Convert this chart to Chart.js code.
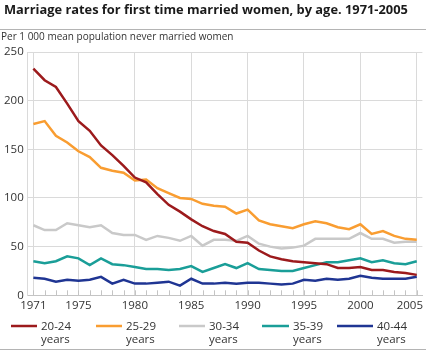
<!DOCTYPE html>
<html><head><meta charset="utf-8">
<script src="https://cdn.jsdelivr.net/npm/chart.js@4/dist/chart.umd.min.js"></script>
<style>html,body{margin:0;padding:0;background:#fff;}canvas{display:block;}</style>
</head><body>
<canvas id="c" width="426" height="351"></canvas>
<script>
const years = [1971,1972,1973,1974,1975,1976,1977,1978,1979,1980,1981,1982,1983,1984,1985,1986,1987,1988,1989,1990,1991,1992,1993,1994,1995,1996,1997,1998,1999,2000,2001,2002,2003,2004,2005];
const xTickLabels = [1971,1975,1980,1985,1990,1995,2000,2005];
const yTickValues = [0,50,100,150,200,250];
const seriesNames = ['20-24 years','25-29 years','30-34 years','35-39 years','40-44 years'];
const age20_24 = [233,221,214,197,179,169,154,144,133,121,116,104,93,86,78,71,66,63,55,54,46,40,37,35,34,33,32,28,28,29,26,26,24,23,21];
const age25_29 = [176,179,164,157,148,142,131,128,126,118,119,110,105,100,99,94,92,91,84,88,77,73,71,69,73,76,74,70,68,73,63,66,61,58,57];
const age30_34 = [72,67,67,74,72,70,72,64,62,62,57,61,59,56,61,51,57,57,56,61,53,50,48,49,51,58,58,58,58,64,58,58,54,55,55];
const age35_39 = [35,33,35,40,38,31,38,32,31,29,27,27,26,27,30,24,28,32,28,33,27,26,25,25,28,31,34,34,36,38,34,36,33,32,35];
const age40_44 = [18,17,14,16,15,16,19,12,16,12,12,13,14,10,17,12,12,13,12,13,13,12,11,12,16,15,17,16,17,20,18,17,17,17,19];

const titleText = 'Marriage rates for first time married women, by age. 1971-2005';
const subtitleText = 'Per 1 000 mean population never married women';

const colors = ['#9c1a1c','#f99d31','#c9c9c9','#1a9e98','#1f3593'];
const seriesData = [age20_24, age25_29, age30_34, age35_39, age40_44];

const FONT = '"Open Sans", "Noto Sans", sans-serif';
const GRID = '#dadada';

const decor = {
  id: 'decor',
  beforeDatasetsDraw(chart) {
    const ctx = chart.ctx, xs = chart.scales.x, ca = chart.chartArea;
    ctx.save();
    ctx.strokeStyle = '#c4c4c4'; ctx.lineWidth = 1;
    years.forEach(y => {
      const px = Math.round(xs.getPixelForValue(y)) + 0.5;
      ctx.beginPath(); ctx.moveTo(px, ca.bottom); ctx.lineTo(px, ca.bottom - 5); ctx.stroke();
    });
    ctx.restore();
  },
  afterDraw(chart) {
    const ctx = chart.ctx, xs = chart.scales.x;
    ctx.save();
    ctx.font = '11.5px ' + FONT; ctx.fillStyle = '#333'; ctx.textBaseline = 'middle';
    xTickLabels.forEach(y => {
      const t = String(y); const w = ctx.measureText(t).width;
      let px = xs.getPixelForValue(y) - w / 2;
      px = Math.min(px, chart.width - 3 - w);
      ctx.fillText(t, px, 306);
    });
    ctx.fillStyle = '#1a1a1a';
    ctx.font = 'bold 12.85px ' + FONT; ctx.textBaseline = 'alphabetic';
    ctx.fillText(titleText, 4, 14);
    ctx.strokeStyle = '#b4b4b4'; ctx.lineWidth = 1;
    ctx.beginPath(); ctx.moveTo(0, 29.5); ctx.lineTo(chart.width, 29.5); ctx.stroke();
    ctx.fillStyle = '#333';
    ctx.font = '10px ' + FONT;
    ctx.fillText(subtitleText, 1, 40);
    const starts = [11, 96, 179, 262, 337];
    const swW = [26, 26, 26, 27, 36];
    ctx.font = '11.5px ' + FONT; ctx.textBaseline = 'middle';
    chart.data.datasets.forEach((ds, i) => {
      ctx.strokeStyle = ds.borderColor; ctx.lineWidth = 2.5;
      ctx.beginPath(); ctx.moveTo(starts[i], 326); ctx.lineTo(starts[i] + swW[i], 326); ctx.stroke();
      const parts = ds.label.split(' ');
      ctx.fillStyle = '#333';
      ctx.fillText(parts[0], starts[i] + swW[i] + 4, 327);
      ctx.fillText(parts[1], starts[i] + swW[i] + 4, 340);
    });
    ctx.strokeStyle = '#b4b4b4'; ctx.lineWidth = 1;
    ctx.beginPath(); ctx.moveTo(0, 349.5); ctx.lineTo(chart.width, 349.5); ctx.stroke();
    ctx.restore();
  }
};

new Chart(document.getElementById('c'), {
  type: 'line',
  data: {
    datasets: seriesNames.map((name, i) => ({
      label: name,
      data: years.map((y, j) => ({x: y, y: seriesData[i][j]})),
      borderColor: colors[i],
      backgroundColor: colors[i],
      borderWidth: 2.5,
      pointRadius: 0,
      tension: 0,
      fill: false
    }))
  },
  options: {
    responsive: false,
    animation: false,
    devicePixelRatio: 1,
    layout: { padding: { top: 52, right: 3.6, bottom: 55.7, left: 0 } },
    plugins: { legend: { display: false }, tooltip: { enabled: false }, title: { display: false } },
    scales: {
      x: {
        type: 'linear', min: 1970.5, max: 2005.5,
        afterBuildTicks: s => { s.ticks = years.map(v => ({value: v})); },
        ticks: { display: false },
        grid: {
          drawTicks: false,
          color: c => (c.tick && xTickLabels.includes(c.tick.value)) ? GRID : 'rgba(0,0,0,0)'
        },
        border: { display: true, color: '#c4c4c4' }
      },
      y: {
        min: 0, max: 250,
        afterBuildTicks: s => { s.ticks = yTickValues.map(v => ({value: v})); },
        ticks: { font: { family: FONT, size: 11.5 }, color: '#333', padding: 4 },
        grid: { color: GRID, drawTicks: false },
        border: { display: true, color: GRID }
      }
    }
  },
  plugins: [decor]
});
</script>
</body></html>
